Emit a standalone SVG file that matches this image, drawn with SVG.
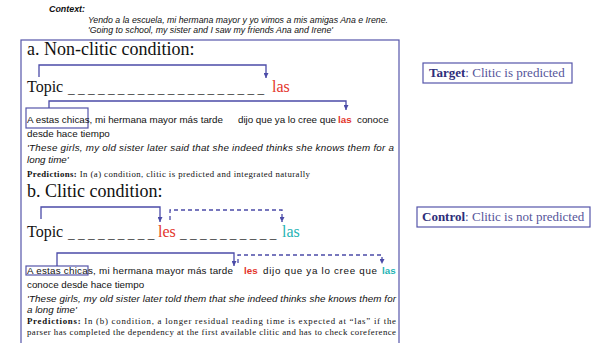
<svg xmlns="http://www.w3.org/2000/svg" width="592" height="343" viewBox="0 0 592 343">
<style>
.sans{font-family:"Liberation Sans",Arial,sans-serif;fill:#111}
.serif{font-family:"Liberation Serif","Times New Roman",serif;fill:#111}
.ctx{font-size:8.5px;font-style:italic}
.sent{font-size:9.8px}
.it{font-style:italic}
.head{font-size:18px}
.topic{font-size:16px}
.us{font-size:13.3px}
.pred{font-size:8.8px}
.red{fill:#e3342a}
.teal{fill:#1fb4b4}
.b{font-weight:bold}
.box{fill:none;stroke:#5555aa;stroke-width:1.2}
.conn{fill:none;stroke:#4b4ba8;stroke-width:1.3}
.dash{stroke-dasharray:4 3}
.lab{font-family:"Liberation Serif","Times New Roman",serif;font-size:13px;fill:#55559a}
.labb{fill:#2e2e7a;font-weight:bold}
</style>
<defs>
<marker id="arr" viewBox="0 0 6 6" refX="6" refY="3" markerWidth="5" markerHeight="5" markerUnits="userSpaceOnUse" orient="auto">
<path d="M0,0 L6,3 L0,6 z" fill="#4b4ba8"/>
</marker>
</defs>
<rect width="592" height="343" fill="#fff"/>

<g id="context">
<text class="sans ctx b" x="49" y="12" textLength="36" lengthAdjust="spacingAndGlyphs">Context:</text>
<text class="sans ctx" x="88" y="23" textLength="300" lengthAdjust="spacingAndGlyphs">Yendo a la escuela, mi hermana mayor y yo vimos a mis amigas Ana e Irene.</text>
<text class="sans ctx" x="88" y="33" textLength="245" lengthAdjust="spacingAndGlyphs">'Going to school, my sister and I saw my friends Ana and Irene'</text>
</g>

<g id="main-panel">
<rect class="box" x="21" y="40" width="378" height="320"/>
</g>

<g id="panel-a">
<text class="serif head" x="27" y="55">a. Non-clitic condition:</text>
<text class="serif topic" x="27" y="92">Topic</text>
<text class="serif us" x="68" y="92.5">_ _ _ _ _ _ _ _ _ _ _ _ _ _ _ _ _ _ _ _</text>
<text class="serif topic red" x="272" y="92">las</text>
<rect class="box" x="26" y="108" width="62" height="20"/>
<text class="sans sent" x="27" y="123" textLength="196" lengthAdjust="spacing">A estas chicas, mi hermana mayor más tarde</text>
<text class="sans sent" x="238" y="123" textLength="98" lengthAdjust="spacing">dijo que ya lo cree que</text>
<text class="sans sent b red" x="338" y="123">las</text>
<text class="sans sent" x="357" y="123">conoce</text>
<text class="sans sent" x="27" y="137">desde hace tiempo</text>
<text class="sans sent it" x="27" y="151" textLength="367" lengthAdjust="spacing">'These girls, my old sister later said that she indeed thinks she knows them for a</text>
<text class="sans sent it" x="27" y="163">long time'</text>
<text class="serif pred" x="27" y="177" textLength="283" lengthAdjust="spacing"><tspan class="b">Predictions:</tspan> In (a) condition, clitic is predicted and integrated naturally</text>
</g>

<g id="panel-b">
<text class="serif head" x="27" y="197">b. Clitic condition:</text>
<text class="serif topic" x="27" y="237">Topic</text>
<text class="serif us" x="68" y="237.5">_ _ _ _ _ _ _ _ _</text>
<text class="serif topic red" x="158" y="237">les</text>
<text class="serif us" x="180" y="237.5">_ _ _ _ _ _ _ _ _ _</text>
<text class="serif topic teal" x="282" y="237">las</text>
<rect class="box" x="26" y="266" width="62" height="9"/>
<text class="sans sent" x="27" y="274" textLength="206" lengthAdjust="spacing">A estas chicas, mi hermana mayor más tarde</text>
<text class="sans sent b red" x="244" y="274">les</text>
<text class="sans sent" x="263" y="274" textLength="114" lengthAdjust="spacing">dijo que ya lo cree que</text>
<text class="sans sent b teal" x="382" y="274">las</text>
<text class="sans sent" x="27" y="288">conoce desde hace tiempo</text>
<text class="sans sent it" x="27" y="302" textLength="369" lengthAdjust="spacing">'These girls, my old sister later told them that she indeed thinks she knows them for</text>
<text class="sans sent it" x="27" y="313">a long time'</text>
<text class="serif pred" x="27" y="324" textLength="369" lengthAdjust="spacing"><tspan class="b">Predictions:</tspan> In (b) condition, a longer  residual  reading time is expected  at “las” if the</text>
<text class="serif pred" x="27" y="335" textLength="369" lengthAdjust="spacing">parser has completed the dependency at the first available clitic and has to check coreference</text>
</g>

<g id="target">
<rect class="box" x="423" y="63" width="149" height="20"/>
<text class="lab" x="429" y="77"><tspan class="labb">Target</tspan>: Clitic is predicted</text>
</g>

<g id="control">
<rect class="box" x="417" y="207" width="173" height="20"/>
<text class="lab" x="422" y="221"><tspan class="labb">Control</tspan>: Clitic is not predicted</text>
</g>

<g id="connectors">
<path class="conn" d="M39,77 V65 H266 V78" marker-end="url(#arr)"/>
<path class="conn" d="M49,108 V101 H346 V110" marker-end="url(#arr)"/>
<path class="conn" d="M41,219 V207 H160 V222" marker-end="url(#arr)"/>
<path class="conn dash" d="M170,220 V210 H282 V222" marker-end="url(#arr)"/>
<path class="conn" d="M57,266 V253 H234 V266" marker-end="url(#arr)"/>
<path class="conn dash" d="M238,263 V255 H382 V264" marker-end="url(#arr)"/>
</g>
</svg>
